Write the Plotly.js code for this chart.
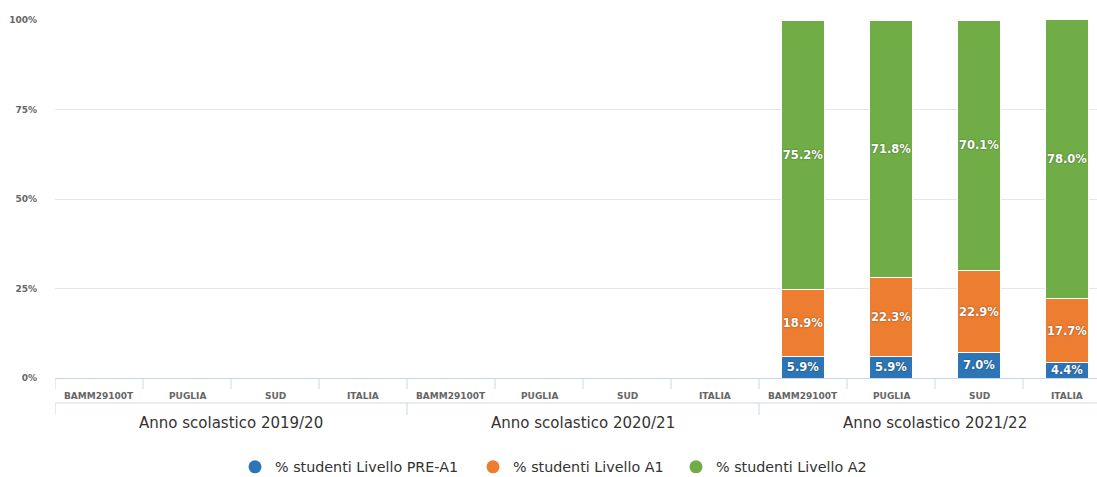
<!DOCTYPE html>
<html>
<head>
<meta charset="utf-8">
<script src="https://cdn.plot.ly/plotly-3.0.1.min.js"></script>
<style>
  html, body { margin: 0; padding: 0; background: #fff; overflow: hidden; }
  #chart { width: 1097px; height: 477px; }
</style>
</head>
<body>
<div id="chart"></div>
<script>
// ---- Data ----
const years = ['Anno scolastico 2019/20', 'Anno scolastico 2020/21', 'Anno scolastico 2021/22'];
const places = ['BAMM29100T', 'PUGLIA', 'SUD', 'ITALIA'];
const seriesNames = ['% studenti Livello PRE-A1', '% studenti Livello A1', '% studenti Livello A2'];
const seriesColors = ['#2e75b6', '#ed7d31', '#70ad47'];
const preA1 = [null, null, null, null, null, null, null, null, 5.9, 5.9, 7.0, 4.4];
const levelA1 = [null, null, null, null, null, null, null, null, 18.9, 22.3, 22.9, 17.7];
const levelA2 = [null, null, null, null, null, null, null, null, 75.2, 71.8, 70.1, 78.0];
const yTicks = [0, 25, 50, 75, 100];

// ---- Build ----
const nCat = years.length * places.length;
const xs = [];
const catLabels = [];
for (let g = 0; g < years.length; g++) {
  for (let p = 0; p < places.length; p++) {
    xs.push(g * places.length + p);
    catLabels.push(places[p]);
  }
}
const values = [preA1, levelA1, levelA2];

const FONT = 'DejaVu Sans, Verdana, sans-serif';
const legendIds = ['legend', 'legend2', 'legend3'];
const traces = [];
values.forEach((vals, i) => {
  traces.push({
    type: 'bar',
    x: xs,
    y: vals,
    name: seriesNames[i],
    showlegend: false,
    marker: { color: seriesColors[i], line: { color: '#ffffff', width: 1 } },
    width: 0.48,
    texttemplate: '%{y:.1f}%',
    textposition: 'inside',
    insidetextanchor: 'middle',
    constraintext: 'none',
    textangle: 0,
    textfont: { family: FONT, size: 11.5, color: '#ffffff', weight: 'bold', shadow: '0px 0px 2px rgba(0,0,0,0.45)' },
    hoverinfo: 'skip'
  });
});
// legend entries (circle symbols), one legend box each
values.forEach((vals, i) => {
  traces.push({
    type: 'scatter',
    mode: 'markers',
    x: [null], y: [null],
    name: seriesNames[i],
    legend: legendIds[i],
    marker: { symbol: 'circle', size: 13, color: seriesColors[i] },
    hoverinfo: 'skip'
  });
});

const W = 1097, plotLeftPx = 55;
const plotTopPx = 20, plotBottomPx = 378, H = 477;
const plotH = plotBottomPx - plotTopPx;
const py = (px) => -(px - plotBottomPx) / plotH; // pixel below axis -> paper y
const pxX = (px) => (px - plotLeftPx) / (W - plotLeftPx);

const shapes = [];
const annotations = [];
// category boundary ticks
for (let k = 0; k <= nCat; k++) {
  shapes.push({
    type: 'line', xref: 'x', yref: 'paper',
    x0: k - 0.5, x1: k - 0.5, y0: 0, y1: py(389),
    line: { color: '#ccd6eb', width: 1 }
  });
}
// horizontal separator under categories
shapes.push({
  type: 'line', xref: 'paper', yref: 'paper',
  x0: 0, x1: 1, y0: py(403), y1: py(403),
  line: { color: '#ccd6eb', width: 1 }
});
// group boundary ticks
for (let g = 0; g <= years.length; g++) {
  const b = g * places.length - 0.5;
  shapes.push({
    type: 'line', xref: 'x', yref: 'paper',
    x0: b, x1: b, y0: py(403), y1: py(415),
    line: { color: '#ccd6eb', width: 1 }
  });
}
// category labels
xs.forEach((x, i) => {
  annotations.push({
    xref: 'x', yref: 'paper', x: x, y: py(396),
    text: catLabels[i], showarrow: false,
    xanchor: 'center', yanchor: 'middle',
    font: { family: FONT, size: 9, color: '#666666', weight: 'bold' }
  });
});
// group labels
years.forEach((yr, g) => {
  annotations.push({
    xref: 'x', yref: 'paper',
    x: g * places.length + (places.length - 1) / 2, y: py(423),
    text: yr, showarrow: false,
    xanchor: 'center', yanchor: 'middle',
    font: { family: FONT, size: 15, color: '#333333' }
  });
});

const legendLeftPx = [235, 473, 676];
const legendBase = (i) => ({
  orientation: 'h',
  x: pxX(legendLeftPx[i]), xanchor: 'left',
  y: py(467), yanchor: 'middle',
  font: { family: FONT, size: 14.3, color: '#333333' },
  itemclick: false, itemdoubleclick: false
});

const layout = {
  width: W,
  height: H,
  margin: { l: plotLeftPx, r: 0, t: plotTopPx, b: H - plotBottomPx, pad: 0, autoexpand: false },
  paper_bgcolor: '#ffffff',
  plot_bgcolor: '#ffffff',
  barmode: 'stack',
  bargap: 0,
  font: { family: FONT, color: '#333333' },
  xaxis: {
    range: [-0.5, 11.34],
    showline: true, linecolor: '#ccd6eb', linewidth: 1,
    showgrid: false, zeroline: false,
    showticklabels: false, ticks: '',
    fixedrange: true
  },
  yaxis: {
    range: [0, 100],
    tickvals: yTicks,
    ticktext: yTicks.map(v => v + '%'),
    showgrid: true, gridcolor: '#e6e6e6', gridwidth: 1,
    zeroline: false, showline: false, ticks: '',
    ticklabelstandoff: 17,
    tickfont: { family: FONT, size: 9, color: '#666666', weight: 'bold' },
    fixedrange: true
  },
  legend: legendBase(0),
  legend2: legendBase(1),
  legend3: legendBase(2),
  shapes: shapes,
  annotations: annotations,
  showlegend: true
};

Plotly.newPlot('chart', traces, layout, { displayModeBar: false, staticPlot: true });
</script>
</body>
</html>
